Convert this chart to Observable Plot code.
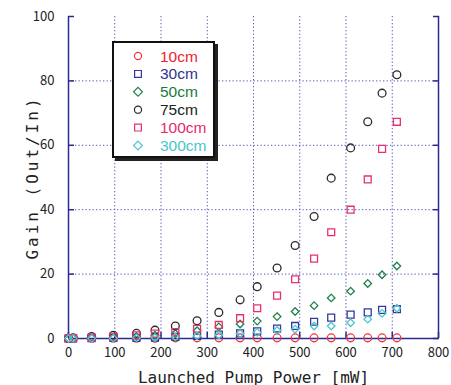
<!DOCTYPE html>
<html><head><meta charset="utf-8">
<script src="https://cdn.jsdelivr.net/npm/d3@7"></script>
<script src="https://cdn.jsdelivr.net/npm/@observablehq/plot@0.6"></script>
<style>
body{margin:0;background:#fff;}
#wrap{position:relative;width:451px;height:385px;}
#legend{position:absolute;left:112px;top:41px;width:99px;height:113px;border:2px solid #111;background:#fff;box-shadow:3px 3px 0 #222;}
#legend svg{display:block;overflow:visible;}
</style></head><body><div id="wrap"><div id="legend"></div></div>
<script>
// Launched pump power (mW), shared by all series
const power = [0, 10, 50, 97, 147, 187, 231, 278, 325, 371, 408, 451, 490, 531, 568, 610, 647, 678, 710];
const series = ["10cm", "30cm", "50cm", "75cm", "100cm", "300cm"];
const gain10  = [0.1, 0.1, 0.1, 0.1, 0.1, 0.1, 0.2, 0.2, 0.2, 0.2, 0.2, 0.2, 0.2, 0.2, 0.2, 0.2, 0.2, 0.2, 0.2];
const gain30  = [0, 0.05, 0.1, 0.15, 0.2, 0.3, 0.5, 0.8, 1.2, 1.6, 2.2, 3.1, 3.9, 5.2, 6.5, 7.4, 8.1, 8.9, 9.1];
const gain50  = [0, 0.1, 0.2, 0.3, 0.6, 1.0, 1.5, 2.4, 3.6, 4.5, 5.4, 6.8, 8.4, 10.2, 12.6, 14.7, 17.1, 19.8, 22.5];
const gain75  = [0, 0.2, 0.6, 1.0, 1.6, 2.6, 3.9, 5.5, 8.1, 12.0, 16.1, 21.9, 28.9, 37.9, 49.8, 59.2, 67.3, 76.2, 81.9];
const gain100 = [0, 0.1, 0.3, 0.6, 1.0, 1.5, 2.0, 3.0, 4.2, 6.3, 9.4, 13.3, 18.4, 24.8, 33.0, 40.0, 49.4, 58.9, 67.3];
const gain300 = [0, 0.05, 0.05, 0.1, 0.2, 0.3, 0.5, 0.8, 1.1, 1.5, 1.9, 2.5, 2.9, 3.9, 3.9, 4.9, 6.0, 7.8, 9.4];
const xTicks = [0, 100, 200, 300, 400, 500, 600, 700, 800];
const yTicks = [0, 20, 40, 60, 80, 100];
const xLabel = "Launched Pump Power [mW]";
const yLabel = "Gain (Out/In)";

const colors = ["#f0343c", "#35399a", "#1f8048", "#2a2a2a", "#e8306e", "#4cc6d0"];
const textColors = ["#ec2430", "#2c3590", "#1a7a3c", "#222222", "#e8286a", "#48c4cc"];
const symbols = ["circle", "square", "diamond2", "circle", "square", "diamond2"];

const gains = [gain10, gain30, gain50, gain75, gain100, gain300];
const data = series.flatMap((s, i) => power.map((p, j) => ({series: s, power: p, gain: gains[i][j]})));

const axisColor = "#2b2b8f";
const gridColor = "#5656b4";

const plot = Plot.plot({
  width: 451, height: 385,
  marginLeft: 68, marginRight: 13, marginTop: 16, marginBottom: 47,
  style: {fontFamily: "'Noto Sans CJK JP', sans-serif", fontSize: "13px", color: "#222", background: "#fff"},
  x: {domain: [0, 800]},
  y: {domain: [0, 100]},
  marks: [
    Plot.gridX(xTicks.slice(1, -1), {stroke: gridColor, strokeOpacity: 1, strokeWidth: 1, strokeDasharray: "1.3,2.2"}),
    Plot.gridY(yTicks.slice(1, -1), {stroke: gridColor, strokeOpacity: 1, strokeWidth: 1, strokeDasharray: "1.3,2.2"}),
    Plot.ruleX([0, 800], {stroke: axisColor, strokeWidth: 1.5}),
    Plot.ruleY([0], {stroke: axisColor, strokeWidth: 1.5}),
    Plot.axisX(xTicks, {tickSize: -6, tickPadding: 15, stroke: axisColor, strokeWidth: 1.5, label: xLabel, labelAnchor: "center", labelOffset: 44, labelArrow: "none"}),
    Plot.axisY(yTicks, {tickSize: -6, tickPadding: 20, stroke: axisColor, strokeWidth: 1.5, label: yLabel, labelAnchor: "center", labelOffset: 42, labelArrow: "none"}),
    Plot.axisY(yTicks, {anchor: "right", tickSize: -6, stroke: axisColor, strokeWidth: 1.5, tickFormat: () => "", label: null}),
    ...series.map((s, i) => Plot.dot(data, {
      filter: d => d.series === s,
      x: "power", y: "gain",
      symbol: symbols[i], stroke: colors[i], fill: "none",
      r: symbols[i] === "diamond2" ? 3.4 : 3.9, strokeWidth: 1.3
    }))
  ]
});
document.getElementById("wrap").prepend(plot);

// style the axis titles
d3.select(plot).selectAll('[aria-label="x-axis label"] text, [aria-label="y-axis label"] text')
  .style("font-family", "'DejaVu Sans Mono', monospace").style("font-size", "16px").attr("fill", "#222");
d3.select(plot).selectAll('[aria-label="y-axis label"] text').style("letter-spacing", "3px");

// legend
const lg = d3.select("#legend").append("svg").attr("width", 99).attr("height", 113);
const symMap = {circle: d3.symbolCircle, square: d3.symbolSquare, diamond2: d3.symbolDiamond2};
const symSize = {circle: 40, square: 46, diamond2: 50};
series.forEach((s, i) => {
  const y = 13 + i * 17.9;
  lg.append("path").attr("d", d3.symbol(symMap[symbols[i]], symSize[symbols[i]])())
    .attr("transform", `translate(24,${y})`).attr("fill", "none").attr("stroke", colors[i]).attr("stroke-width", 1.2);
  lg.append("text").attr("x", 46).attr("y", y).attr("dy", "0.36em").text(s)
    .attr("fill", textColors[i]).style("font-family", "'Liberation Sans', sans-serif").style("font-size", "15.5px");
});
</script>
</body></html>
